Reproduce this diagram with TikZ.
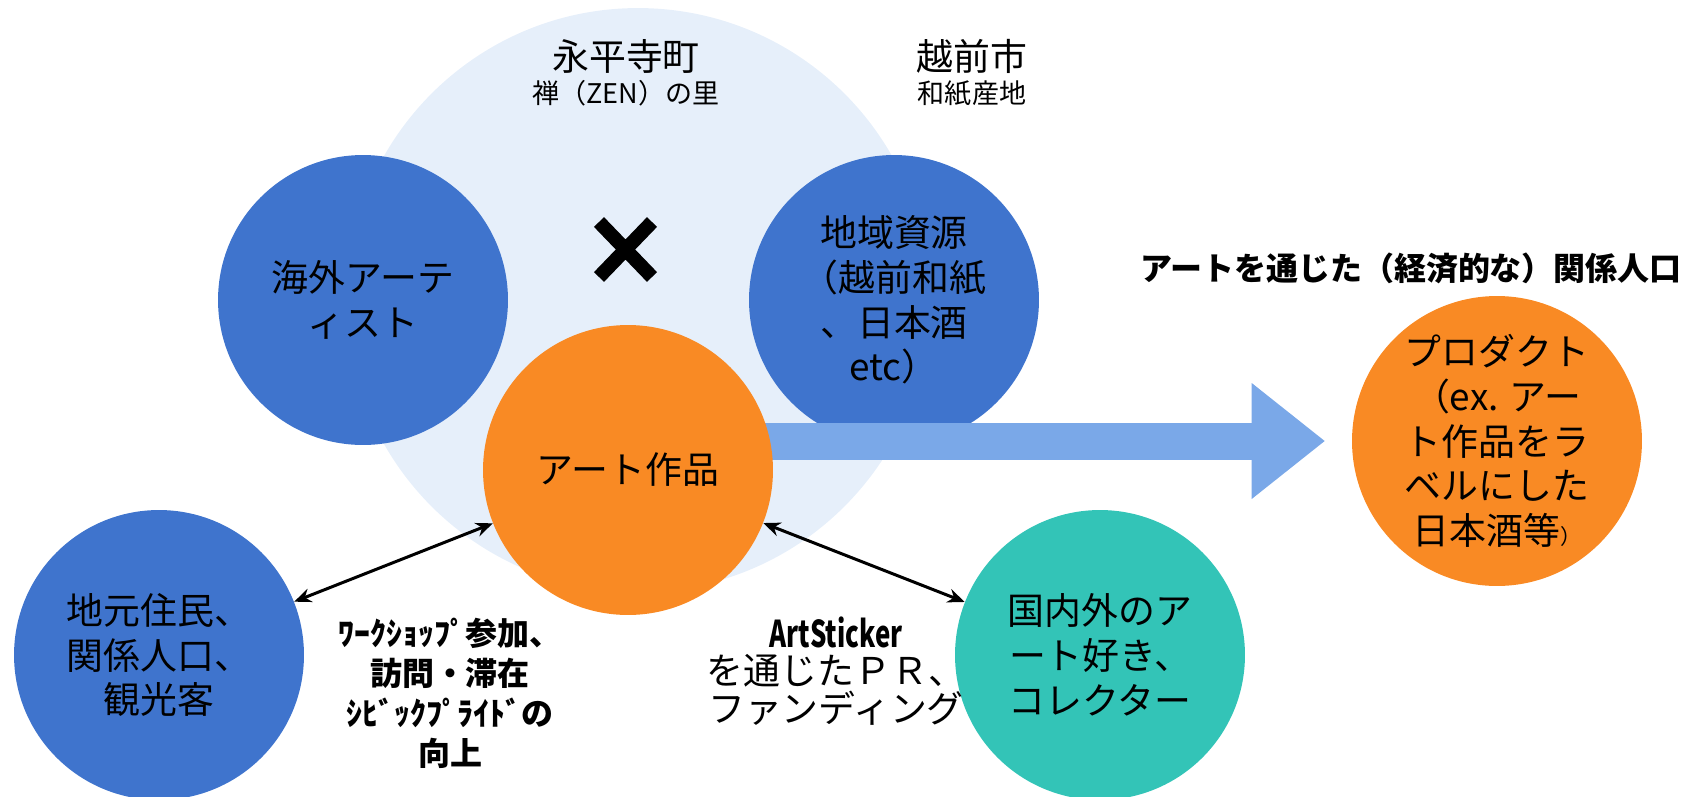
\documentclass[tikz,border=0pt]{standalone}
\usepackage{fontspec}
\setmainfont{Noto Sans CJK JP}
\usepackage{xcolor}
\usepackage{tikz}
\usetikzlibrary{arrows.meta,positioning,calc}

\definecolor{areabg}{RGB}{230,239,250}
\definecolor{spotblue}{RGB}{63,116,205}
\definecolor{spotorange}{RGB}{249,138,36}
\definecolor{spotteal}{RGB}{51,196,183}
\definecolor{flowblue}{RGB}{122,168,232}

\begin{document}
\begin{tikzpicture}[x=0.02cm, y=-0.02cm,
    spot/.style={circle, minimum size=5.8cm, inner sep=0pt, align=center,
        font=\fontsize{21}{25.5}\selectfont},
    link/.style={{Stealth[length=0.34cm, width=0.28cm]}-{Stealth[length=0.34cm, width=0.28cm]}, line width=0.06cm},
    bigflow/.style={line width=0.74cm, flowblue,
        -{Triangle[length=1.46cm, width=2.32cm, line width=0pt]}, shorten >=0.54cm},
    note/.style={align=center, inner sep=0pt}]
    \useasboundingbox (0,0) rectangle (1695,796);

    % Area behind the two towns
    \node[circle, fill=areabg, minimum size=11.68cm, inner sep=0pt] (area) at (638,300) {};
    \node[note, font=\fontsize{21}{21}\selectfont] (eihei) at (626,56) {永平寺町};
    \node[note, font=\fontsize{15.4}{15.4}\selectfont] (zen) at (626,93) {禅（ZEN）の里};
    \node[note, font=\fontsize{21}{21}\selectfont] (echizen) at (972,56) {越前市};
    \node[note, font=\fontsize{15.4}{15.4}\selectfont] (washi) at (972,93) {和紙産地};

    % Artist x resource
    \node[spot, fill=spotblue] (artist) at (363,300) {海外アーテ\\ィスト};
    \node[spot, fill=spotblue] (resource) at (894,300) {地域資源\\（越前和紙\\、日本酒\\etc）};
    \draw[line width=0.28cm] (599,222) -- (652,277) (652,222) -- (599,277);

    % Product on the right
    \node[note, font=\bfseries\fontsize{18.2}{18.2}\selectfont] (relation) at (1411,268) {アートを通じた（経済的な）関係人口};
    \node[spot, fill=spotorange] (product) at (1497,441) {プロダクト\\（ex. アー\\ト作品をラ\\ベルにした\\日本酒等{\fontsize{12}{12}\selectfont ）}};

    % Flow arrow (starts under the art work)
    \coordinate (flowstart) at (700,441);
    \draw[bigflow] (flowstart) -- (product.west);

    % Art work in the middle
    \node[spot, fill=spotorange] (art) at (628,470) {アート作品};

    % People around
    \node[spot, fill=spotblue] (local) at (159,655) {地元住民、\\関係人口、\\観光客};
    \node[spot, fill=spotteal] (fans) at (1100,655) {国内外のア\\ート好き、\\コレクター};
    \draw[link] (local) -- (art);
    \draw[link] (art) -- (fans);

    \node[note, font=\bfseries\fontsize{18.2}{22.7}\selectfont] (visit) at (450,693) {ﾜｰｸｼｮｯﾌﾟ参加、\\訪問・滞在\\ｼﾋﾞｯｸﾌﾟﾗｲﾄﾞの\\向上};
    \node[note, font=\fontsize{21}{21.5}\selectfont] (promo) at (836,671) {\scalebox{0.7}[1]{\textbf{ArtSticker}}\\を通じたＰＲ、\\ファンディング};
\end{tikzpicture}
\end{document}
